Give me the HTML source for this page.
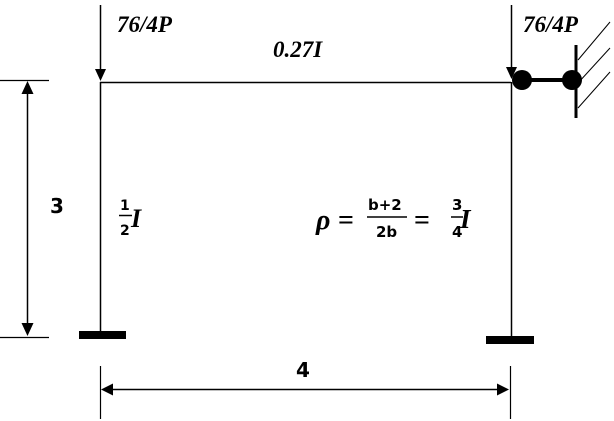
<!DOCTYPE html>
<html><head><style>body{margin:0;background:#fff}svg{display:block}</style></head><body>
<svg width="614" height="421" viewBox="0 0 614 421" xmlns="http://www.w3.org/2000/svg" font-family="'Liberation Serif',serif">
<!-- frame -->
<line x1="100" y1="82.5" x2="511" y2="82.5" stroke="#000" stroke-width="1.5"/>
<line x1="100.5" y1="82" x2="100.5" y2="333" stroke="#000" stroke-width="1.5"/>
<line x1="511.5" y1="82" x2="511.5" y2="338" stroke="#000" stroke-width="1.5"/>
<rect x="79" y="331" width="47" height="8" fill="#000"/>
<rect x="486" y="336" width="48" height="8" fill="#000"/>
<!-- loads -->
<line x1="100.5" y1="5" x2="100.5" y2="70" stroke="#000" stroke-width="1.5"/>
<path d="M100.5,81 L95,69 L106,69Z" fill="#000"/>
<line x1="511.5" y1="5" x2="511.5" y2="68" stroke="#000" stroke-width="1.5"/>
<path d="M511.5,79 L506,67 L517,67Z" fill="#000"/>
<!-- support -->
<line x1="522" y1="80" x2="572" y2="80" stroke="#000" stroke-width="4"/>
<circle cx="522" cy="80" r="10" fill="#000"/>
<circle cx="572" cy="80" r="10" fill="#000"/>
<line x1="576" y1="45" x2="576" y2="118" stroke="#000" stroke-width="3"/>
<g stroke="#000" stroke-width="1">
<line x1="578" y1="60" x2="610" y2="22"/>
<line x1="578" y1="83" x2="610" y2="48"/>
<line x1="578" y1="108" x2="610" y2="72"/>
</g>
<!-- left dim -->
<line x1="0" y1="80.5" x2="49" y2="80.5" stroke="#000" stroke-width="1.2"/>
<line x1="0" y1="337.5" x2="49" y2="337.5" stroke="#000" stroke-width="1.2"/>
<line x1="27.5" y1="92" x2="27.5" y2="325" stroke="#000" stroke-width="1.5"/>
<path d="M27.5,81 L21.5,94 L33.5,94Z M27.5,336 L21.5,323 L33.5,323Z" fill="#000"/>
<!-- bottom dim -->
<line x1="100.5" y1="366" x2="100.5" y2="419" stroke="#000" stroke-width="1.2"/>
<line x1="510.5" y1="366" x2="510.5" y2="419" stroke="#000" stroke-width="1.2"/>
<line x1="112" y1="389.5" x2="498" y2="389.5" stroke="#000" stroke-width="1.5"/>
<path d="M101,389.5 L113,383.5 L113,395.5Z M509,389.5 L497,383.5 L497,395.5Z" fill="#000"/>
<!-- labels -->
<g font-weight="bold" font-style="italic" font-size="23">
<text x="117" y="32">76/4P</text>
<text x="523" y="32">76/4P</text>
<text x="273" y="57">0.27I</text>
</g>
<g font-family="'DejaVu Sans',sans-serif" font-weight="bold" font-size="20">
<text x="50" y="213">3</text>
<text x="296" y="377">4</text>
</g>
<!-- 1/2 I -->
<g font-family="'DejaVu Sans',sans-serif" font-weight="bold" font-size="14">
<text x="120" y="210">1</text><text x="120" y="235">2</text>
</g>
<line x1="119" y1="215.5" x2="132" y2="215.5" stroke="#000" stroke-width="1.5"/>
<text x="131" y="227" font-weight="bold" font-style="italic" font-size="26">I</text>
<!-- rho -->
<text x="316" y="229" font-weight="bold" font-style="italic" font-size="28">ρ</text>
<text x="338" y="229" font-weight="bold" font-size="28">=</text>
<g font-family="'DejaVu Sans',sans-serif" font-weight="bold" font-size="15">
<text x="368" y="210">b+2</text><text x="376" y="237">2b</text>
<text x="452" y="210">3</text><text x="452" y="237">4</text>
</g>
<line x1="367" y1="217" x2="407" y2="217" stroke="#000" stroke-width="1.5"/>
<text x="414" y="229" font-weight="bold" font-size="28">=</text>
<line x1="451" y1="217" x2="463" y2="217" stroke="#000" stroke-width="1.5"/>
<text x="460" y="228" font-weight="bold" font-style="italic" font-size="27">I</text>
</svg>
</body></html>
